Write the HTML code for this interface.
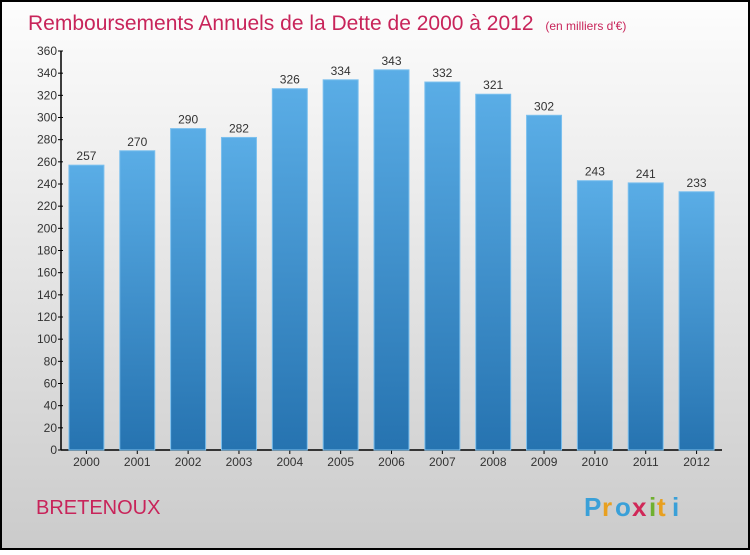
<!DOCTYPE html>
<html><head><meta charset="utf-8"><style>
body{margin:0;width:750px;height:550px;overflow:hidden;font-family:"Liberation Sans",sans-serif}
</style></head><body>
<svg width="750" height="550" xmlns="http://www.w3.org/2000/svg">
<defs>
<linearGradient id="bg" x1="0" y1="0" x2="0" y2="1"><stop offset="0" stop-color="#fdfdfd"/><stop offset="1" stop-color="#cbcbcb"/></linearGradient>
<linearGradient id="bar" x1="0" y1="0" x2="0" y2="1"><stop offset="0" stop-color="#5aade6"/><stop offset="1" stop-color="#2673b0"/></linearGradient>
</defs>
<rect x="1" y="1" width="748" height="548" fill="url(#bg)" stroke="#000" stroke-width="2"/>
<text x="28" y="30" font-size="21" fill="#c8245a">Remboursements Annuels de la Dette de 2000 à 2012 <tspan font-size="12" dx="6">(en milliers d'€)</tspan></text>
<g id="axes"></g>
<g id="bars"></g>
<text x="36" y="514" font-size="20" fill="#c8245a">BRETENOUX</text>
<g font-size="26" font-weight="bold" font-family="Liberation Sans,sans-serif">
<text x="584" y="516" fill="#3aa0d8">P</text><text x="602" y="516" fill="#e8a020">r</text><text x="615" y="516" fill="#3aa0d8">o</text><text x="632" y="516" fill="#d02858">x</text><text x="649" y="516" fill="#70b030">i</text><text x="657" y="516" fill="#e8a020">t</text><text x="672" y="516" fill="#3aa0d8">i</text>
</g>
</svg>
<script>
const years=["2000","2001","2002","2003","2004","2005","2006","2007","2008","2009","2010","2011","2012"];
const values=[257,270,290,282,326,334,343,332,321,302,243,241,233];
const ticks=[0,20,40,60,80,100,120,140,160,180,200,220,240,260,280,300,320,340,360];
const NS="http://www.w3.org/2000/svg";
const x0=61,x1=722,y0=450,yTop=51,maxV=360;
const slot=(x1-x0)/years.length;
const y=v=>y0-v*(y0-yTop)/maxV;
const xc=i=>x0+slot*(i+0.5);
function mk(t,a,p){const e=document.createElementNS(NS,t);for(const k in a)e.setAttribute(k,a[k]);p.appendChild(e);return e;}
const ax=document.getElementById('axes'),bg=document.getElementById('bars');
const yl=mk('line',{x1:x0,y1:yTop,x2:x0,y2:y0,stroke:'#000','stroke-width':1.5},ax);


const xl=mk('line',{x1:x0,y1:y0,x2:x1,y2:y0,stroke:'#000','stroke-width':1.5},ax);


ticks.forEach(v=>{
  mk('line',{x1:x0-3,x2:x0+2,y1:y(v),y2:y(v),stroke:'#000'},ax);
  const t=mk('text',{x:x0-4,y:y(v)+4,'text-anchor':'end','font-size':12,fill:'#333'},ax);
  t.textContent=v;
  
  
});
years.forEach((yr,i)=>{
  const bw=35,v=values[i];
  const r=mk('rect',{x:xc(i)-bw/2,y:y(v),width:bw,height:y0-y(v),fill:'url(#bar)',stroke:'#7cc0ee','stroke-width':1},bg);
  
  
  const lt=mk('text',{x:xc(i),y:y(v)-5,'text-anchor':'middle','font-size':12,fill:'#333'},bg);
  lt.textContent=v;
  
  
  mk('line',{x1:xc(i),x2:xc(i),y1:y0,y2:y0+4,stroke:'#000'},ax);
  const xt=mk('text',{x:xc(i),y:y0+16,'text-anchor':'middle','font-size':12,fill:'#333'},ax);
  xt.textContent=yr;
  
  
});
</script>
</body></html>
